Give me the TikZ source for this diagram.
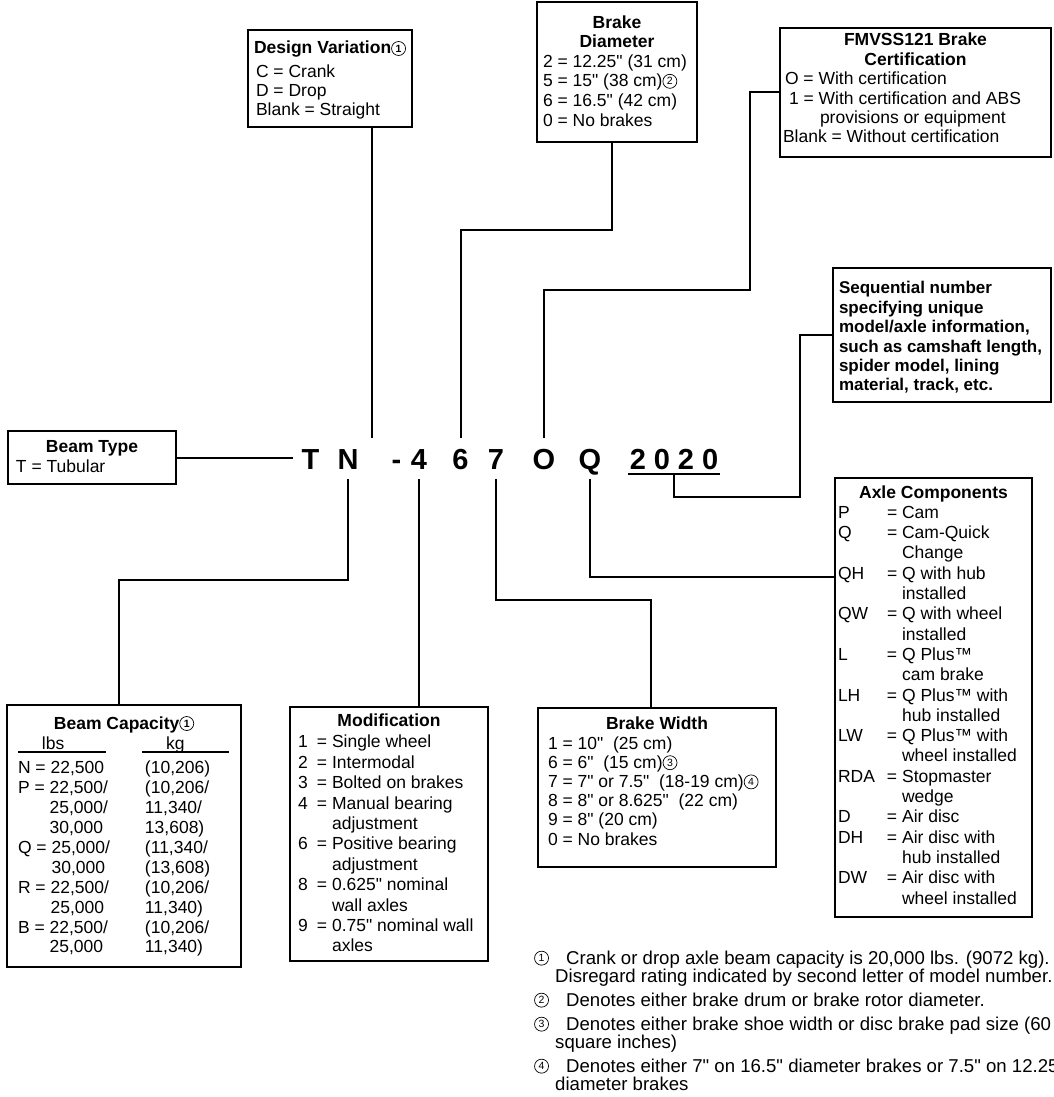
\documentclass[tikz,border=0pt]{standalone}
\usepackage{fontspec}
\setmainfont{Liberation Sans}[Ligatures=TeXOff]
\newcommand{\cnum}[1]{\tikz[baseline={([yshift=1.5pt]c.south)}]\node[circle, draw, line width=0.7pt, inner sep=0pt, minimum size=14pt, font=\fontsize{10.5}{10.5}\selectfont] (c) {#1};}
\newcommand{\ttl}[1]{\makebox[\linewidth]{\strut\bfseries #1}}
\newcommand{\kv}[3]{\makebox[#1][l]{#2}= #3}
\newcommand{\hd}[2]{\makebox[#1][l]{\rlap{\rule[-2.8pt]{#1}{1.6pt}}\hspace*{24pt}#2}}
\newcommand{\caprow}[2]{\makebox[127pt][l]{#1}#2}
\newcommand{\keytext}[4]{\parbox[t][#2][t]{#1}{\fontsize{17.5}{#3}\selectfont\raggedright #4}}

\begin{document}
\begin{tikzpicture}[x=1pt, y=-1pt,
	keybox/.style={draw, line width=2.4pt, anchor=north west, outer sep=0pt},
	code/.style={font=\fontsize{29}{29}\selectfont\bfseries, anchor=base, text height=21pt, text depth=0pt, inner xsep=8.5pt, inner ysep=10pt, outer sep=0pt},
	link/.style={line width=2pt},
	fnote/.style={anchor=base west, inner sep=0pt, font=\fontsize{18.6}{18}\selectfont}]
	\useasboundingbox[fill=white] (0,0) rectangle (1053,1097);

	% model number
	\foreach \n/\x/\t in {T/310.5/T, N/348/N, hy/396.5/-, 4/419/4, 6/460.5/6, 7/496/7, O/544/O, Q/590/Q} {
		\node[code] (l\n) at (\x,469) {\t};
	}
	\node[code, inner xsep=1.75pt, inner ysep=5pt] (lseq) at (674,469) {2\hspace{8pt}0\hspace{8pt}2\hspace{8pt}0};
	\draw[link] (lseq.south west) -- (lseq.south east);
	\coordinate (lblank) at (372,438);

	% boxes above
	\node[keybox, inner xsep=8pt, inner ysep=10.7pt] (dv) at (248,30) {\keytext{148pt}{75.6pt}{19pt}{%
		\ttl{Design Variation\cnum{1}}\\[5pt]
		C = Crank\\
		D = Drop\\
		Blank = Straight}};
	\node[keybox, inner xsep=6pt, inner ysep=12.3pt] (bd) at (537,2) {\keytext{148pt}{115.4pt}{19.6pt}{%
		\ttl{Brake}\\
		\ttl{Diameter}\\
		2 = 12.25" (31 cm)\\
		5 = 15" (38 cm)\cnum{2}\\
		6 = 16.5" (42 cm)\\
		0 = No brakes}};
	\node[keybox, inner xsep=3pt, inner ysep=4.4pt] (fm) at (780,28) {\keytext{265pt}{120.2pt}{19.4pt}{%
		\ttl{FMVSS121 Brake}\\
		\ttl{Certification}\\
		\hspace*{2pt}O = With certification\\
		\hspace*{6pt}1 = With certification and ABS\\
		\hspace*{37pt}provisions or equipment\\
		Blank = Without certification}};
	\node[keybox, inner xsep=6pt, inner ysep=12.4pt] (sq) at (833,268) {\keytext{206pt}{109.2pt}{19.4pt}{%
		\bfseries\fontsize{17}{19.4}\selectfont\strut Sequential number\\
		specifying unique\\
		model/axle information,\\
		such as camshaft length,\\
		spider model, lining\\
		material, track, etc.}};

	% boxes left and below
	\node[keybox, inner xsep=8pt, inner ysep=7pt] (bt) at (8,431) {\keytext{152pt}{39pt}{20pt}{%
		\ttl{Beam Type}\\
		T = Tubular}};
	\node[keybox, inner xsep=11pt, inner ysep=10.07pt] (bc) at (7,705) {\keytext{212pt}{241.9pt}{19.9pt}{%
		\ttl{Beam Capacity\cnum{1}}\\[1pt]
		\makebox[124pt][l]{\hd{88pt}{lbs}}\hd{87pt}{kg}\\[4pt]
		\caprow{N = 22,500}{(10,206)}\\
		\caprow{P = 22,500/}{(10,206/}\\
		\caprow{\phantom{P = }25,000/}{11,340/}\\
		\caprow{\phantom{P = }30,000}{13,608)}\\
		\caprow{Q = 25,000/}{(11,340/}\\
		\caprow{\phantom{Q = }30,000}{(13,608)}\\
		\caprow{R = 22,500/}{(10,206/}\\
		\caprow{\phantom{R = }25,000}{11,340)}\\
		\caprow{B = 22,500/}{(10,206/}\\
		\caprow{\phantom{B = }25,000}{11,340)}}};
	\node[keybox, inner xsep=8pt, inner ysep=5.7pt] (md) at (290,707) {\keytext{182pt}{242.6pt}{20.4pt}{%
		\ttl{Modification}\\[0.6pt]
		\kv{19pt}{1}{Single wheel}\\
		\kv{19pt}{2}{Intermodal}\\
		\kv{19pt}{3}{Bolted on brakes}\\
		\kv{19pt}{4}{Manual bearing}\\
		\hspace*{34.1pt}adjustment\\
		\kv{19pt}{6}{Positive bearing}\\
		\hspace*{34.1pt}adjustment\\
		\kv{19pt}{8}{0.625" nominal}\\
		\hspace*{34.1pt}wall axles\\
		\kv{19pt}{9}{0.75" nominal wall}\\
		\hspace*{34.1pt}axles}};
	\node[keybox, inner xsep=10pt, inner ysep=7.56pt] (bw) at (538,708) {\keytext{218pt}{143.9pt}{19.2pt}{%
		\ttl{Brake Width}\\[0.8pt]
		1 = 10"~ (25 cm)\\
		6 = 6"~ (15 cm)\cnum{3}\\
		7 = 7" or 7.5"~ (18-19 cm)\cnum{4}\\
		8 = 8" or 8.625"~ (22 cm)\\
		9 = 8" (20 cm)\\
		0 = No brakes}};
	\node[keybox, inner xsep=3pt, inner ysep=5.8pt] (ac) at (835,478) {\keytext{191pt}{427.4pt}{20.3pt}{%
		\ttl{Axle Components}\\
		\kv{49pt}{P}{Cam}\\
		\kv{49pt}{Q}{Cam-Quick}\\
		\hspace*{64.1pt}Change\\
		\kv{49pt}{QH}{Q with hub}\\
		\hspace*{64.1pt}installed\\
		\kv{49pt}{QW}{Q with wheel}\\
		\hspace*{64.1pt}installed\\
		\kv{49pt}{L}{Q Plus™}\\
		\hspace*{64.1pt}cam brake\\
		\kv{49pt}{LH}{Q Plus™ with}\\
		\hspace*{64.1pt}hub installed\\
		\kv{49pt}{LW}{Q Plus™ with}\\
		\hspace*{64.1pt}wheel installed\\
		\kv{49pt}{RDA}{Stopmaster}\\
		\hspace*{64.1pt}wedge\\
		\kv{49pt}{D}{Air disc}\\
		\kv{49pt}{DH}{Air disc with}\\
		\hspace*{64.1pt}hub installed\\
		\kv{49pt}{DW}{Air disc with}\\
		\hspace*{64.1pt}wheel installed}};

	% connectors
	\draw[link] (bt.east) -- (bt.east -| lT.west);
	\draw[link] (dv.south -| lblank) -- (lblank);
	\coordinate (bdknee) at (612,230);
	\draw[link] (bdknee |- bd.south) -- (bdknee) -| (l6.north);
	\coordinate (fmknee) at (750,290);
	\draw[link] (fm.west) -| (fmknee) -| (lO.north);
	\coordinate (sqknee) at (800,497);
	\draw[link] (sq.west) -| (sqknee) -| (lseq.south);
	\coordinate (bcknee) at (119,580);
	\draw[link] (lN.south) |- (bcknee) -- (bcknee |- bc.north);
	\draw[link] (l4.south) -- (l4.south |- md.north);
	\coordinate (bwknee) at (651,600);
	\draw[link] (l7.south) |- (bwknee) -- (bwknee |- bw.north);
	\coordinate (acknee) at (590,577);
	\draw[link] (lQ.south) -- (acknee) -- (acknee -| ac.west);

	% footnotes
	\node[fnote] (fn1) at (534,964) {\parbox[t]{560pt}{\raggedright\lineskiplimit=-6pt
		\makebox[32pt][l]{\cnum{1}}Crank or drop axle beam capacity is 20,000 lbs. (9072 kg).\\
		\hspace*{21pt}Disregard rating indicated by second letter of model number.}};
	\node[fnote] (fn2) at (534,1006) {\parbox[t]{560pt}{\raggedright
		\makebox[32pt][l]{\cnum{2}}Denotes either brake drum or brake rotor diameter.}};
	\node[fnote] (fn3) at (534,1030) {\parbox[t]{560pt}{\raggedright\lineskiplimit=-6pt
		\makebox[32pt][l]{\cnum{3}}Denotes either brake shoe width or disc brake pad size (60\\
		\hspace*{21pt}square inches)}};
	\node[fnote] (fn4) at (534,1072) {\parbox[t]{560pt}{\raggedright\lineskiplimit=-6pt
		\makebox[32pt][l]{\cnum{4}}Denotes either 7" on 16.5" diameter brakes or 7.5" on 12.25"\\
		\hspace*{21pt}diameter brakes}};
\end{tikzpicture}
\end{document}
